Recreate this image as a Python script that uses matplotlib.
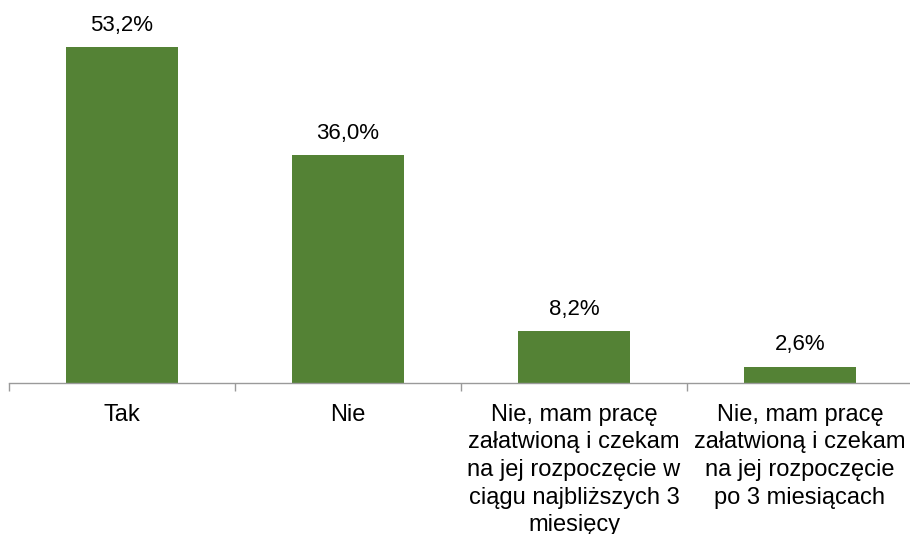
import matplotlib.pyplot as plt

categories = [
    "Tak",
    "Nie",
    "Nie, mam pracę\nzałatwioną i czekam\nna jej rozpoczęcie w\nciągu najbliższych 3\nmiesięcy",
    "Nie, mam pracę\nzałatwioną i czekam\nna jej rozpoczęcie\npo 3 miesiącach",
]
values = [53.2, 36.0, 8.2, 2.6]
value_labels = ["53,2%", "36,0%", "8,2%", "2,6%"]

plt.rcParams['font.family'] = ['Liberation Sans', 'DejaVu Sans']

fig = plt.figure(figsize=(9.1, 5.34), dpi=100)
ax = fig.add_axes([9 / 910, (534 - 383) / 534, 904 / 910, 378 / 534])

x = list(range(len(categories)))
bars = ax.bar(x, values, width=0.495, color='#548235', zorder=2)

for xi, v, lab in zip(x, values, value_labels):
    ax.annotate(lab, (xi, v), xytext=(0, 8), textcoords='offset points',
                ha='center', va='bottom', fontsize=16, color='#000000')

ax.set_xlim(-0.5, 3.5)
ax.set_ylim(0, 59.8)

ax.set_xticks(x)
ax.set_xticklabels(categories, fontsize=17, linespacing=1.33)
ax.tick_params(axis='x', which='major', length=0, pad=15)
ax.set_xticks([-0.5, 0.5, 1.5, 2.5, 3.5], minor=True)
ax.tick_params(axis='x', which='minor', length=6, color='#9a9a9a', width=1)

ax.set_yticks([])
for side in ['left', 'right', 'top']:
    ax.spines[side].set_visible(False)
ax.spines['bottom'].set_color('#9a9a9a')
ax.spines['bottom'].set_linewidth(1)

fig.savefig('out.png', dpi=100)
